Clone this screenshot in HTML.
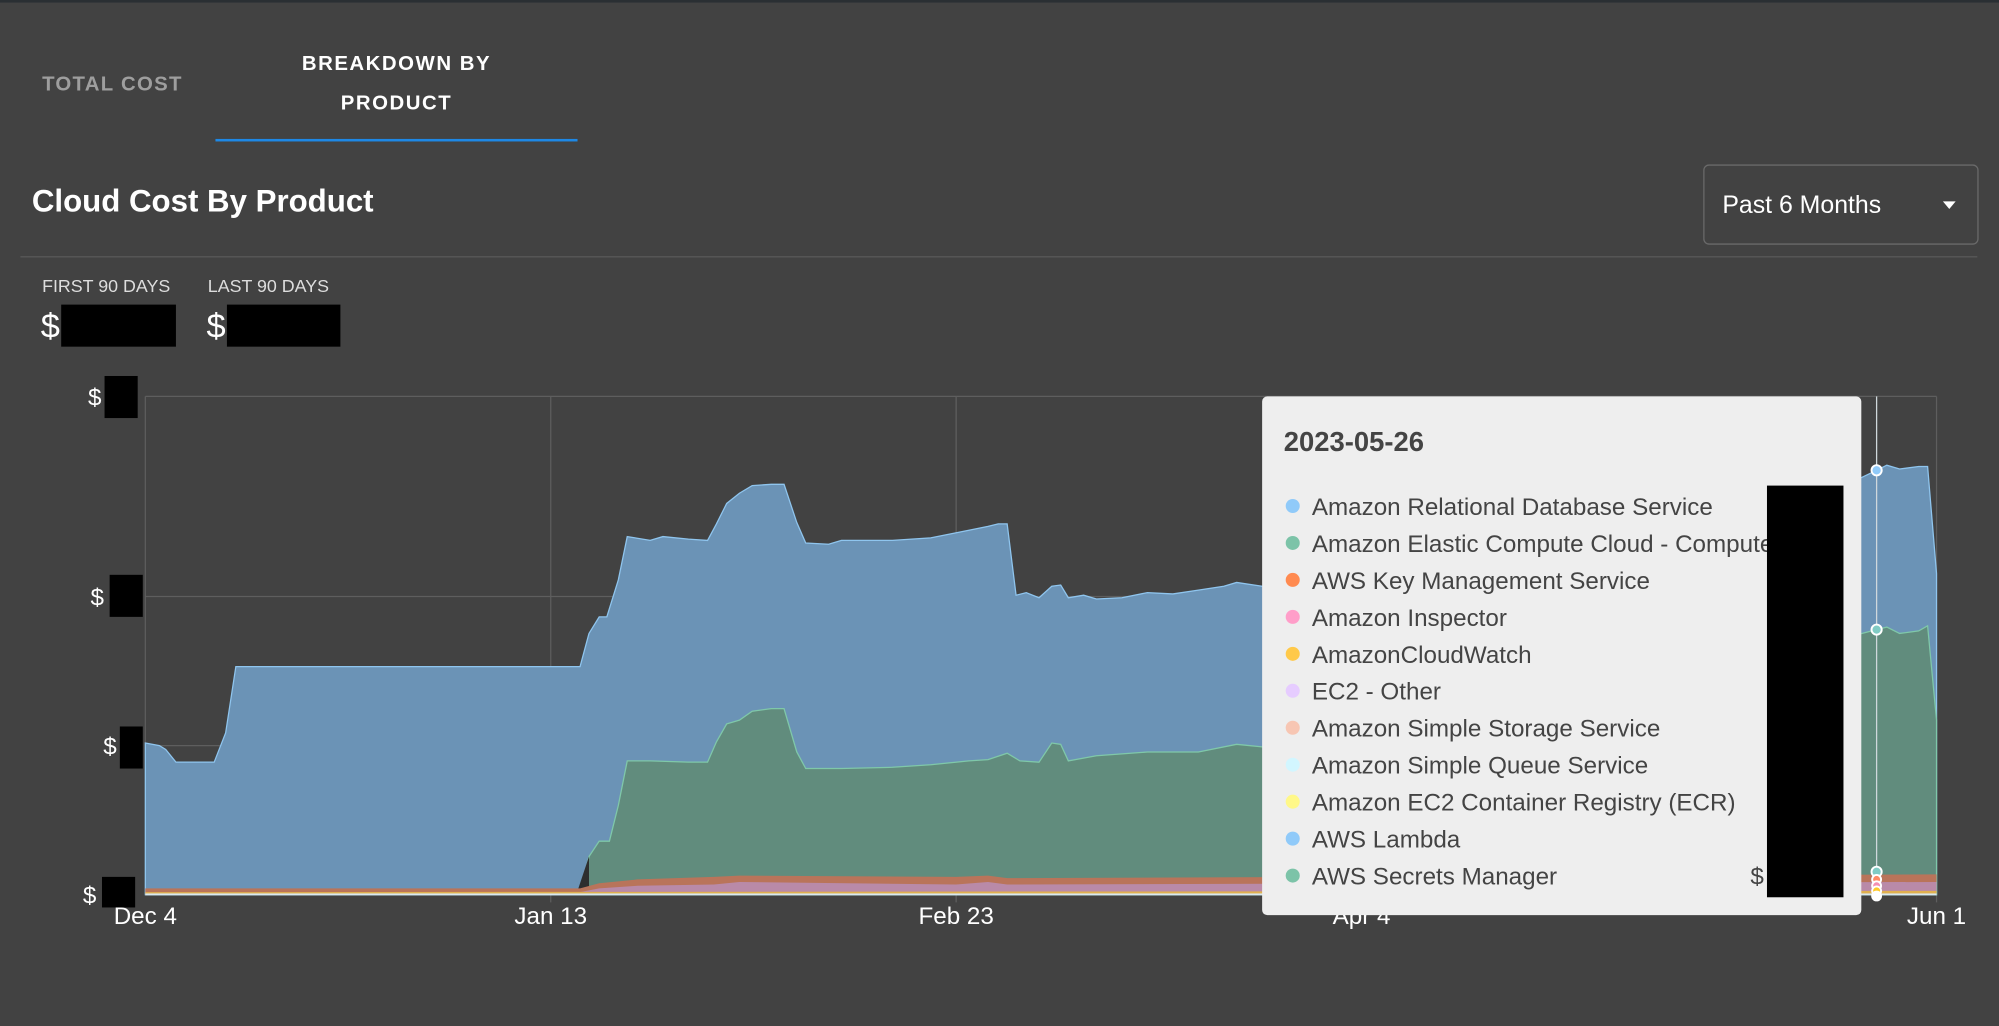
<!DOCTYPE html>
<html><head><meta charset="utf-8"><style>
html,body{margin:0;padding:0;background:#424242;overflow:hidden}
svg{display:block}
text{font-family:"Liberation Sans",sans-serif}
</style></head><body>
<svg width="1999" height="1026" viewBox="0 0 1568 805" preserveAspectRatio="none" xmlns="http://www.w3.org/2000/svg">
<rect width="1568" height="805" fill="#424242"/>
<rect width="1568" height="2" fill="#2a2f33"/>
<text x="33" y="71" font-size="16" font-weight="bold" fill="#9e9e9e" letter-spacing="1">TOTAL COST</text>
<text x="311" y="55" font-size="16" font-weight="bold" fill="#fff" text-anchor="middle" letter-spacing="1.2">BREAKDOWN BY</text>
<text x="311" y="86" font-size="16" font-weight="bold" fill="#fff" text-anchor="middle" letter-spacing="1.2">PRODUCT</text>
<rect x="169" y="109" width="284" height="2" fill="#1e88e5"/>
<text x="25" y="166" font-size="24.5" font-weight="bold" fill="#fff">Cloud Cost By Product</text>
<rect x="1336.5" y="129.5" width="215" height="62" rx="4" fill="none" stroke="#6a6a6a"/>
<text x="1351" y="167" font-size="19.5" fill="#fff">Past 6 Months</text>
<path d="M1524 158 L1534 158 L1529 164 Z" fill="#fff"/>
<rect x="16" y="201" width="1535" height="1" fill="#5a5a5a"/>
<text x="33" y="229" font-size="14" fill="#ddd">FIRST 90 DAYS</text>
<text x="163" y="229" font-size="14" fill="#ddd">LAST 90 DAYS</text>
<text x="32" y="265" font-size="27" fill="#fff">$</text>
<rect x="48" y="239" width="90" height="33" fill="#000"/>
<text x="162" y="265" font-size="27" fill="#fff">$</text>
<rect x="178" y="239" width="89" height="33" fill="#000"/>
<!-- grid -->
<g stroke="#5e5e5e" stroke-width="1">
<line x1="114" y1="311" x2="1519" y2="311"/>
<line x1="114" y1="468" x2="1519" y2="468"/>
<line x1="114" y1="585" x2="1519" y2="585"/>
<line x1="114" y1="311" x2="114" y2="702"/>
<line x1="432" y1="311" x2="432" y2="708"/>
<line x1="750" y1="311" x2="750" y2="708"/>
<line x1="1068" y1="311" x2="1068" y2="708"/>
<line x1="1519" y1="311" x2="1519" y2="708"/>
</g>
<!-- blue area -->
<path d="M114 583 L125 585 L130 588 L138 598 L168 598 L177 575 L185 523 L455 523 L462 497 L470 484 L476 484 L485 455 L492 421 L510 424 L520 421 L540 423 L555 424 L562 411 L570 395 L580 387 L590 381 L605 380 L615 380 L625 410 L632 426 L650 427 L660 424 L700 424 L730 422 L760 416 L775 413 L783 411 L790 411 L797 467 L805 465 L815 469 L825 460 L832 459 L838 469 L850 467 L860 470 L880 469 L900 465 L920 466 L940 463 L960 460 L970 457 L990 460 L1449 380 L1472 369 L1480 365 L1490 368 L1505 366 L1512 366 L1519 450 L1519 702 L114 702 Z" fill="#6b93b6" stroke="#8fc5ee" stroke-width="1"/>
<!-- green area -->
<path d="M455 700 L462 672 L470 660 L478 660 L485 632 L492 597 L510 597 L540 598 L555 598 L562 582 L570 568 L580 565 L590 558 L605 556 L615 556 L625 590 L632 603 L660 603 L700 602 L730 600 L760 597 L775 596 L790 591 L800 597 L815 598 L825 583 L832 584 L838 597 L860 593 L900 590 L940 590 L970 584 L990 586 L1449 500 L1472 494 L1480 492 L1490 497 L1505 495 L1512 491 L1519 565 L1519 702 L455 702 Z" fill="#618c7d" stroke="#7fc8a9" stroke-width="1"/>
<path d="M452 702 L462 672 L462 702 Z" fill="#2e2e2e"/>
<!-- small stacks -->
<path d="M114 697 L455 697 L470 693 L500 690 L560 688 L580 687 L750 688 L775 687 L790 689 L1519 686 L1519 702 L114 702 Z" fill="#b9745a"/>
<path d="M455 700 L470 697 L500 695 L560 694 L580 692 L750 694 L775 692 L790 694 L1519 692 L1519 702 L455 702 Z" fill="#b98aa8"/>
<path d="M114 700 L1519 699 L1519 702 L114 702 Z" fill="#e0b050"/>
<rect x="114" y="701" width="1405" height="1.5" fill="#d8e8f0"/>
<!-- axis labels -->
<g font-size="19" fill="#fff" text-anchor="middle">
<text x="114" y="725">Dec 4</text>
<text x="432" y="725">Jan 13</text>
<text x="750" y="725">Feb 23</text>
<text x="1068" y="725">Apr 4</text>
<text x="1519" y="725">Jun 1</text>
</g>
<g font-size="19" fill="#fff">
<text x="69" y="318">$</text><rect x="82" y="295" width="26" height="33" fill="#000"/>
<text x="71" y="475">$</text><rect x="86" y="451" width="26" height="33" fill="#000"/>
<text x="81" y="592">$</text><rect x="94" y="570" width="18" height="33" fill="#000"/>
<text x="65" y="709">$</text><rect x="80" y="688" width="26" height="24" fill="#000"/>
</g>
<!-- hover line -->
<line x1="1472" y1="311" x2="1472" y2="704" stroke="#cfd8dc" stroke-width="1"/>
<g stroke="#fff" stroke-width="1.5">
<circle cx="1472" cy="369" r="4" fill="#90caf9"/>
<circle cx="1472" cy="494" r="4" fill="#80cbc4"/>
<circle cx="1472" cy="684" r="4" fill="#80cbc4"/>
<circle cx="1472" cy="690" r="3.5" fill="#ff8a65"/>
<circle cx="1472" cy="695" r="3.5" fill="#f48fb1"/>
<circle cx="1472" cy="699" r="3.5" fill="#ffca28"/>
<circle cx="1472" cy="703" r="3.5" fill="#fff"/>
</g>
<!-- tooltip -->
<rect x="990" y="311" width="470" height="407" rx="4" fill="#eeeeee"/>
<text x="1007" y="354" font-size="21.5" font-weight="bold" fill="#444">2023-05-26</text>
<g font-size="19" fill="#444">
<circle cx="1014" cy="397" r="5.5" fill="#90caf9"/><text x="1029" y="404">Amazon Relational Database Service</text>
<circle cx="1014" cy="426" r="5.5" fill="#7cc3a8"/><text x="1029" y="433">Amazon Elastic Compute Cloud - Compute</text>
<circle cx="1014" cy="455" r="5.5" fill="#ff8a50"/><text x="1029" y="462">AWS Key Management Service</text>
<circle cx="1014" cy="484" r="5.5" fill="#ff9ec9"/><text x="1029" y="491">Amazon Inspector</text>
<circle cx="1014" cy="513" r="5.5" fill="#ffc94a"/><text x="1029" y="520">AmazonCloudWatch</text>
<circle cx="1014" cy="542" r="5.5" fill="#e6ccff"/><text x="1029" y="549">EC2 - Other</text>
<circle cx="1014" cy="571" r="5.5" fill="#f7c6b3"/><text x="1029" y="578">Amazon Simple Storage Service</text>
<circle cx="1014" cy="600" r="5.5" fill="#d2f6ff"/><text x="1029" y="607">Amazon Simple Queue Service</text>
<circle cx="1014" cy="629" r="5.5" fill="#fff889"/><text x="1029" y="636">Amazon EC2 Container Registry (ECR)</text>
<circle cx="1014" cy="658" r="5.5" fill="#90caf9"/><text x="1029" y="665">AWS Lambda</text>
<circle cx="1014" cy="687" r="5.5" fill="#7cc3a8"/><text x="1029" y="694">AWS Secrets Manager</text>
<text x="1373" y="694">$</text>
</g>
<rect x="1386" y="381" width="60" height="323" fill="#000"/>
</svg>
</body></html>
